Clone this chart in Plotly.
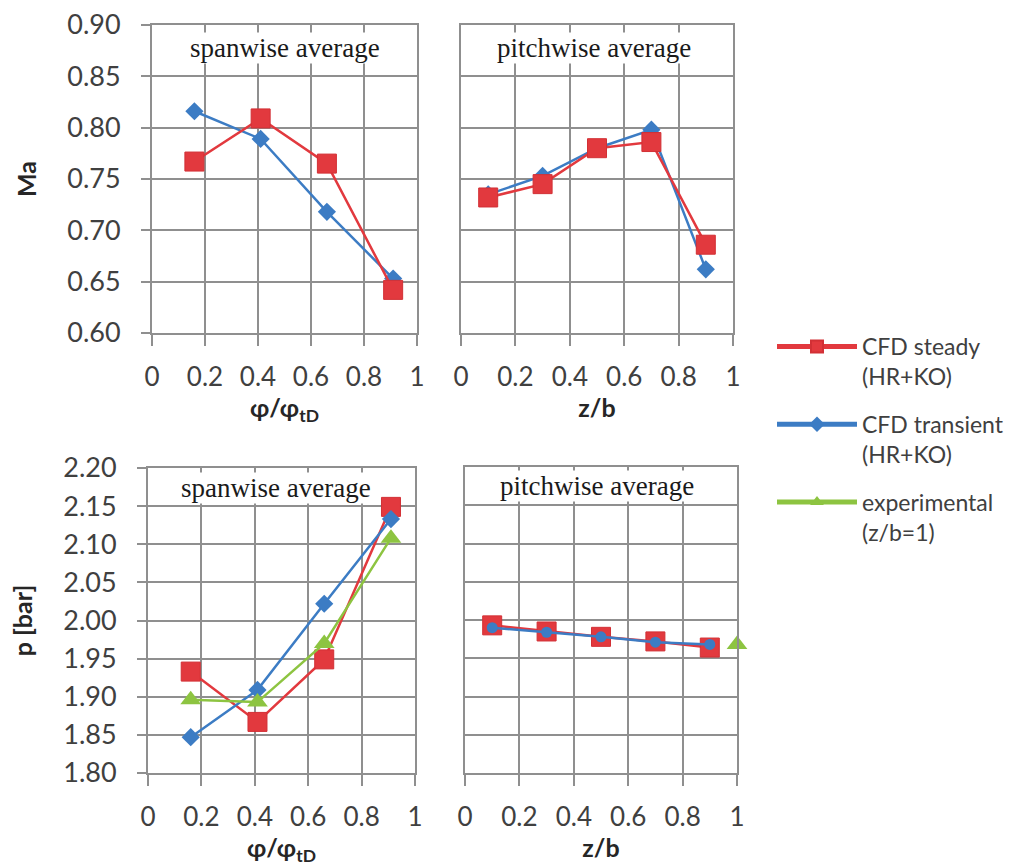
import plotly.graph_objects as go

# ---------------- data ----------------
x_span = [0.16, 0.41, 0.66, 0.91]          # phi / phi_tD
x_pitch = [0.1, 0.3, 0.5, 0.7, 0.9]        # z / b
x_pitch_exp = [1.0]

ma_span_steady = [0.767, 0.809, 0.765, 0.642]
ma_span_transient = [0.816, 0.789, 0.718, 0.653]
ma_pitch_steady = [0.732, 0.745, 0.780, 0.786, 0.686]
ma_pitch_transient = [0.735, 0.753, 0.780, 0.798, 0.662]

p_span_steady = [1.933, 1.867, 1.949, 2.149]
p_span_transient = [1.847, 1.909, 2.022, 2.133]
p_span_exp = [1.896, 1.893, 1.970, 2.108]
p_pitch_steady = [1.993, 1.985, 1.978, 1.972, 1.964]
p_pitch_transient = [1.990, 1.984, 1.978, 1.971, 1.968]
p_pitch_exp = [1.968]

x_ticks = [0, 0.2, 0.4, 0.6, 0.8, 1]
x_ticktext = ["0", "0.2", "0.4", "0.6", "0.8", "1"]

names = ["CFD steady<br>(HR+KO)", "CFD transient<br>(HR+KO)", "experimental<br>(z/b=1)"]

# ---------------- styles ----------------
RED = "#e2393e"
BLUE = "#3c7cc4"
GREEN = "#8dc441"
GRID = "#8f8f8f"
TXT = "#404040"
FONT = "Lato"

def steady(x, y, xa, ya, show=False):
    return go.Scatter(x=x, y=y, xaxis=xa, yaxis=ya, mode="lines+markers",
                      name=names[0], legendgroup="a", showlegend=show,
                      line=dict(color=RED, width=2.5),
                      marker=dict(symbol="square", size=19, color=RED,
                                  line=dict(color="#d23035", width=1)),
                      cliponaxis=False)

def transient(x, y, xa, ya, show=False, sym="diamond", size=14):
    return go.Scatter(x=x, y=y, xaxis=xa, yaxis=ya, mode="lines+markers",
                      name=names[1], legendgroup="b", showlegend=show,
                      line=dict(color=BLUE, width=2.5),
                      marker=dict(symbol=sym, size=size, color=BLUE),
                      cliponaxis=False)

def exper(x, y, xa, ya, show=False):
    return go.Scatter(x=x, y=y, xaxis=xa, yaxis=ya, mode="lines+markers",
                      name=names[2], legendgroup="c", showlegend=show,
                      line=dict(color=GREEN, width=2.5),
                      marker=dict(symbol="triangle-up", size=18, color=GREEN),
                      cliponaxis=False)

fig = go.Figure()
# top-left: Ma spanwise
fig.add_trace(transient(x_span, ma_span_transient, "x", "y"))
fig.add_trace(steady(x_span, ma_span_steady, "x", "y"))
# top-right: Ma pitchwise
fig.add_trace(transient(x_pitch, ma_pitch_transient, "x2", "y2"))
fig.add_trace(steady(x_pitch, ma_pitch_steady, "x2", "y2"))
# bottom-left: p spanwise
fig.add_trace(steady(x_span, p_span_steady, "x3", "y3", show=True))
fig.add_trace(transient(x_span, p_span_transient, "x3", "y3", show=True))
fig.add_trace(exper(x_span, p_span_exp, "x3", "y3", show=True))
# bottom-right: p pitchwise
fig.add_trace(steady(x_pitch, p_pitch_steady, "x4", "y4"))
fig.add_trace(transient(x_pitch, p_pitch_transient, "x4", "y4", sym="circle", size=11))
fig.add_trace(exper(x_pitch_exp, p_pitch_exp, "x4", "y4"))

W, H = 1019, 866

def px_x(a, b):
    return [a / W, b / W]

def px_y(top, bottom):
    return [1 - bottom / H, 1 - top / H]

common_x = dict(range=[0, 1], tickvals=x_ticks, ticktext=x_ticktext,
                showgrid=True, gridcolor=GRID, gridwidth=1.8,
                showline=True, linecolor=GRID, linewidth=1.8, mirror=True,
                ticks="outside", ticklen=11, tickcolor=GRID, tickwidth=1.8,
                tickfont=dict(family=FONT, size=26, color=TXT),
                ticklabelstandoff=9, zeroline=False, fixedrange=True,
                automargin=False)
common_y = dict(showgrid=True, gridcolor=GRID, gridwidth=1.8,
                showline=True, linecolor=GRID, linewidth=1.8, mirror=True,
                tickfont=dict(family=FONT, size=27, color=TXT),
                zeroline=False, fixedrange=True, automargin=False)

title_font = dict(family=FONT, size=25, color="#262626", weight="bold")

layout = dict(
    width=W, height=H,
    margin=dict(l=0, r=0, t=0, b=0, autoexpand=False),
    paper_bgcolor="white", plot_bgcolor="white",
    font=dict(family=FONT, color=TXT),
    xaxis=dict(common_x, domain=px_x(152, 417), anchor="y",
               title=dict(text="φ/φ<sub>tD</sub>", font=title_font, standoff=7)),
    yaxis=dict(common_y, domain=px_y(25, 333), anchor="x", range=[0.6, 0.9],
               dtick=0.05, tick0=0.6, tickformat=".2f",
               ticks="outside", ticklen=9, tickcolor=GRID, tickwidth=1.8,
               ticklabelstandoff=15,
               title=dict(text="Ma", font=title_font, standoff=24)),
    xaxis2=dict(common_x, domain=px_x(461, 733), anchor="y2",
                title=dict(text="z/b", font=title_font, standoff=6)),
    yaxis2=dict(common_y, domain=px_y(25, 333), anchor="x2", range=[0.6, 0.9],
                dtick=0.05, tick0=0.6, showticklabels=False),
    xaxis3=dict(common_x, domain=px_x(148, 415), anchor="y3",
                title=dict(text="φ/φ<sub>tD</sub>", font=title_font, standoff=6)),
    yaxis3=dict(common_y, domain=px_y(468, 773), anchor="x3", range=[1.8, 2.2],
                dtick=0.05, tick0=1.8, tickformat=".2f",
                ticks="outside", ticklen=9, tickcolor=GRID, tickwidth=1.8,
                ticklabelstandoff=15,
                title=dict(text="p [bar]", font=title_font, standoff=24)),
    xaxis4=dict(common_x, domain=px_x(465, 737), anchor="y4",
                title=dict(text="z/b", font=title_font, standoff=6)),
    yaxis4=dict(common_y, domain=px_y(467, 773), anchor="x4", range=[1.8, 2.2],
                dtick=0.05, tick0=1.8, showticklabels=False),
    legend=dict(x=772 / W, y=1 - 325 / H, xanchor="left", yanchor="top",
                font=dict(family=FONT, size=23, color=TXT),
                itemwidth=80, tracegroupgap=15, valign="top",
                itemsizing="constant",
                bgcolor="rgba(0,0,0,0)"),
    showlegend=True,
)
fig.update_layout(**layout)

serif = dict(family="Liberation Serif", size=27, color="#1a1a1a")
panel_labels = [
    ("x domain", "y domain", 0.50, 0.925, "spanwise average"),
    ("x2 domain", "y2 domain", 0.49, 0.925, "pitchwise average"),
    ("x3 domain", "y3 domain", 0.48, 0.934, "spanwise average"),
    ("x4 domain", "y4 domain", 0.485, 0.938, "pitchwise average"),
]
for xr, yr, ax, ay, txt in panel_labels:
    fig.add_annotation(xref=xr, yref=yr, x=ax, y=ay, text=txt, showarrow=False,
                       font=serif, bgcolor="white", borderpad=0,
                       xanchor="center", yanchor="middle")

fig.write_html("out.html",
               config={"displayModeBar": False},
               post_script="document.body.style.margin='0px';"
                           "document.body.style.overflow='hidden';")
